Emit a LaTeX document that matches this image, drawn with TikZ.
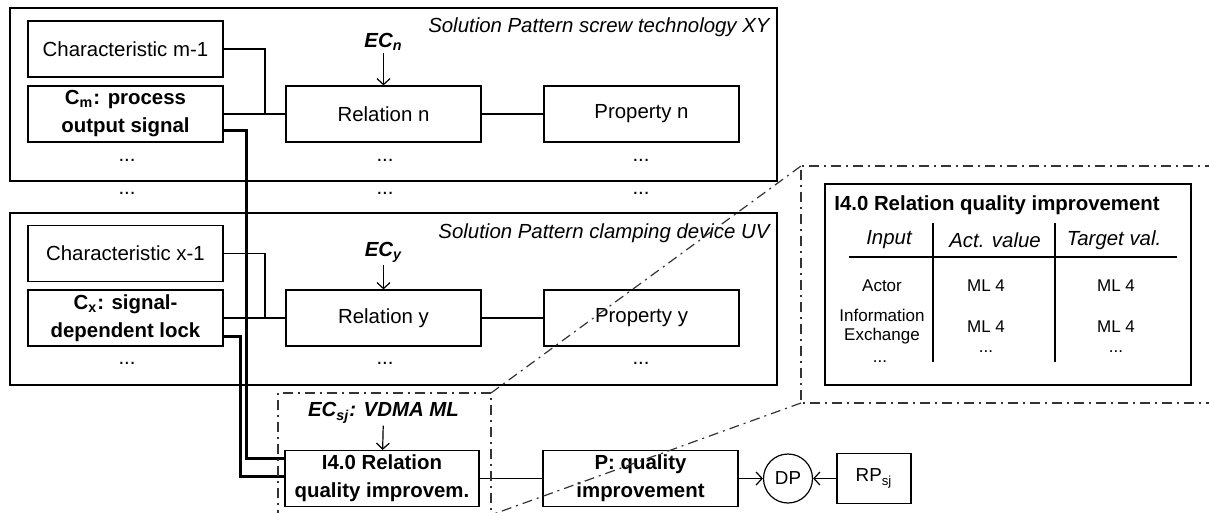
\documentclass[tikz,border=0pt]{standalone}
\usepackage{fontspec}
\setmainfont{Liberation Sans}
\usetikzlibrary{calc,arrows.meta}

\tikzset{
  box/.style={draw, line width=0.6pt, minimum width=97.5pt, minimum height=28pt, inner sep=0pt, align=center, font=\fontsize{10.2}{14}\selectfont},
  boldbox/.style={box, font=\fontsize{10.2}{14}\selectfont\bfseries},
  frame/.style={draw, line width=0.7pt, inner sep=0pt},
  txt/.style={inner sep=1pt, font=\fontsize{10.2}{14}\selectfont},
  splabel/.style={inner sep=1pt, anchor=east, font=\fontsize{10.2}{14}\selectfont\itshape},
  small/.style={inner sep=1pt, align=center, font=\fontsize{8.5}{9.5}\selectfont},
  eclabel/.style={inner sep=1pt, font=\fontsize{10.2}{14}\selectfont\bfseries\itshape},
  link/.style={line width=0.6pt},
  bus/.style={line width=1.5pt},
  arr/.style={line width=0.6pt, -{Straight Barb[length=3pt,width=6.5pt]}},
  zoomline/.style={line width=0.6pt, black!80, dash pattern=on 5pt off 2.5pt on 1pt off 2.5pt},
}

\begin{document}
\begin{tikzpicture}[x=0.5pt, y=-0.5pt]
	%%%%% START %%%%%
	\useasboundingbox (0,0) rectangle (1209,513);
	\clip (0,0) rectangle (1209,513);
	
	% solution pattern XY
	\node[frame, minimum width=383.5pt, minimum height=86.5pt] (spN) at (393.5,94.5) {};
	\node[splabel] (spNlab) at (772,27) {Solution Pattern screw technology XY};
	\node[box] (charM) at (125.5,49) {Characteristic m-1};
	\node[boldbox] (cM) at (125.5,114) {C\textsubscript{m}: process\\output signal};
	\node[box] (relN) at (383.5,114) {Relation n};
	\node[box] (propN) at (641.5,114) {Property n};
	\node[eclabel] (ecN) at (383.5,42) {EC\textsubscript{n}};
	\node[txt] (dotCM) at (127,160) {...};
	\node[txt] (dotRN) at (385,160) {...};
	\node[txt] (dotPN) at (641,160) {...};
	
	\coordinate (jN) at (265,114);
	\draw[link] (charM.east) -| (jN) -- (relN.west);
	\draw[link] (cM.east) -- (jN);
	\draw[link] (relN) -- (propN);
	\draw[arr] (ecN) -- (relN);
	
	% between the patterns
	\node[txt] (dotA) at (127,193) {...};
	\node[txt] (dotB) at (385,193) {...};
	\node[txt] (dotC) at (641,193) {...};
	
	% solution pattern UV
	\node[frame, minimum width=383.5pt, minimum height=86pt] (spY) at (393.5,299) {};
	\node[splabel] (spYlab) at (772,233) {Solution Pattern clamping device UV};
	\node[box] (charX) at (125.5,253.5) {Characteristic x-1};
	\node[boldbox] (cX) at (125.5,318) {C\textsubscript{x}: signal-\\dependent lock};
	\node[box] (relY) at (383.5,318) {Relation y};
	\node[box] (propY) at (641.5,318) {Property y};
	\node[eclabel] (ecY) at (383.5,252) {EC\textsubscript{y}};
	\node[txt] (dotCX) at (127,363) {...};
	\node[txt] (dotRY) at (385,363) {...};
	\node[txt] (dotPY) at (641,363) {...};
	
	\coordinate (jY) at (265,318);
	\draw[link] (charX.east) -| (jY) -- (relY.west);
	\draw[link] (cX.east) -- (jY);
	\draw[link] (relY) -- (propY);
	\draw[arr] (ecY) -- (relY);
	
	% I4.0 relation and design parameter
	\node[boldbox, minimum width=97pt] (i40) at (382,478.5) {I4.0 Relation\\quality improvem.};
	\node[boldbox] (pQ) at (640.5,478.5) {P: quality\\improvement};
	\node[draw, circle, line width=0.6pt, minimum size=24.5pt, inner sep=0pt, font=\fontsize{9.4}{11}\selectfont] (dp) at (788,478.5) {DP};
	\node[draw, line width=0.6pt, minimum width=37pt, minimum height=25pt, inner sep=0pt, font=\fontsize{9.4}{11}\selectfont] (rp) at (874,478.5) {RP\textsubscript{sj}};
	\node[eclabel] (ecS) at (383.5,413) {EC\textsubscript{sj}: VDMA ML};
	
	\draw[arr] (ecS) -- (i40);
	\draw[link] (i40) -- (pQ);
	\draw[arr] (pQ) -- (dp);
	\draw[arr] (rp) -- (dp);
	
	\coordinate (busA) at (246,458);
	\coordinate (busB) at (240,476);
	\draw[bus] ($(cM.south east)+(0,-12)$) -| (busA) -- (busA -| i40.west);
	\draw[bus] ($(cX.south east)+(0,-10)$) -| (busB) -- (busB -| i40.west);
	
	% detail table
	\node[frame, minimum width=183pt, minimum height=100.5pt] (tab) at (1008,284.5) {};
	\node[txt, font=\fontsize{10.2}{14}\selectfont\bfseries] (tabT) at (997,205) {I4.0 Relation quality improvement};
	\foreach \x in {933,1055}
		\draw[link] (\x,223) -- (\x,362);
	\draw[link] (849,257) -- (1177,257);
	\node[txt, font=\fontsize{10.2}{14}\selectfont\itshape] (hIn) at (889,240) {Input};
	\node[txt, font=\fontsize{10.2}{14}\selectfont\itshape] (hAct) at (995,240) {Act. value};
	\node[txt, font=\fontsize{10.2}{14}\selectfont\itshape] (hTgt) at (1114,240) {Target val.};
	\node[small] (rActor) at (882,286) {Actor};
	\node[small] (rActorA) at (986,286) {ML 4};
	\node[small] (rActorT) at (1116,286) {ML 4};
	\node[small] (rInfo) at (882,327) {Information\\Exchange};
	\node[small] (rInfoA) at (986,327) {ML 4};
	\node[small] (rInfoT) at (1116,327) {ML 4};
	\node[small] (rDotA) at (986,352) {...};
	\node[small] (rDotT) at (1116,352) {...};
	\node[small] (rDotI) at (880,362) {...};
	
	% zoom frames
	\coordinate (zTL) at (801,166);
	\coordinate (zBL) at (801,403);
	\coordinate (eTR) at (491,393);
	\coordinate (eBR) at (491,515);
	\draw[zoomline] (1215,166) -- (zTL) -- (zBL) -- (1215,403);
	\draw[zoomline] (278,520) -- (278,393) -- (eTR) -- (491,520);
	\draw[zoomline] (eTR) -- (zTL);
	\draw[zoomline] (zBL) -- (eBR);
	
	%%%%% END %%%%%
\end{tikzpicture}
\end{document}
